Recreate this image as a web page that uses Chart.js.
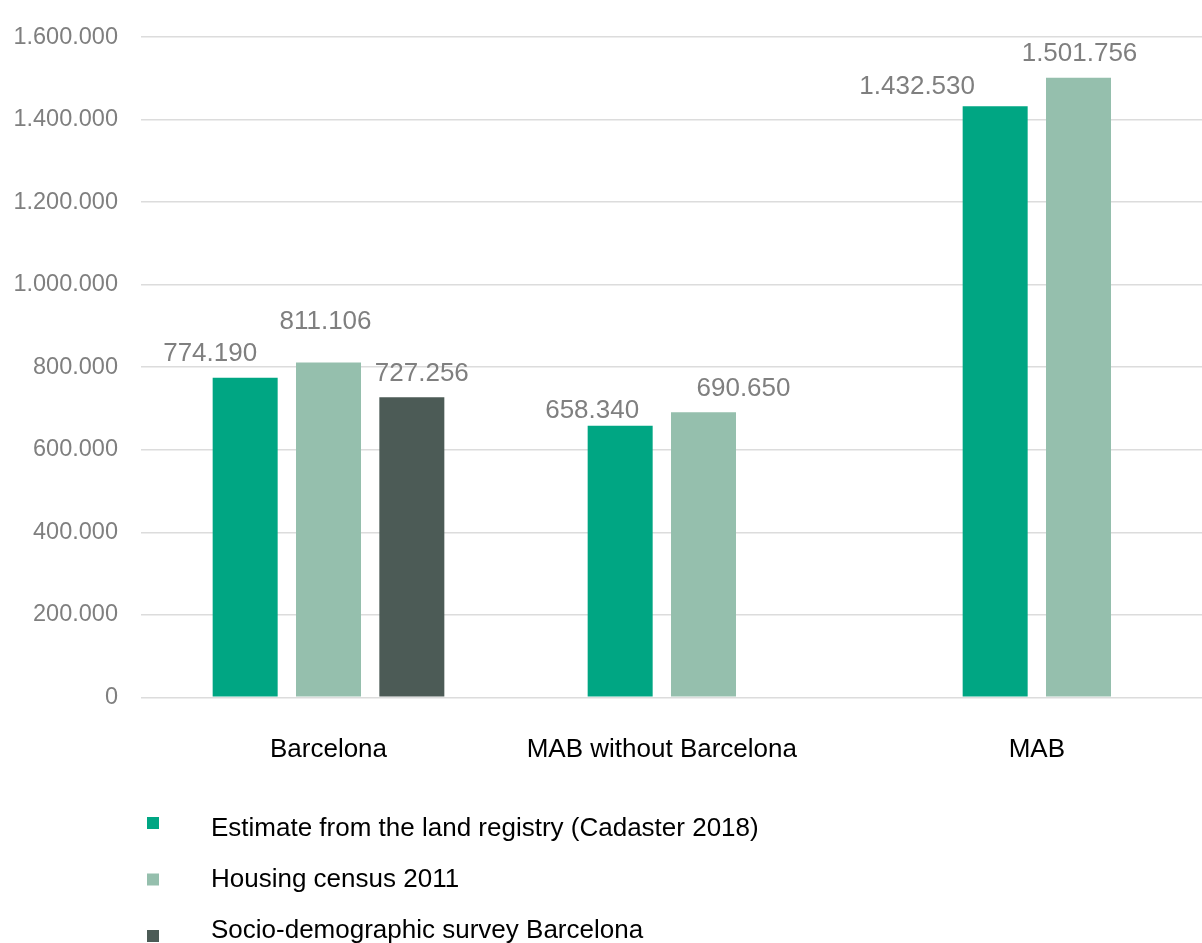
<!DOCTYPE html>
<html>
<head>
<meta charset="utf-8">
<title>Dwellings: Barcelona, MAB without Barcelona, MAB</title>
<script src="https://cdn.jsdelivr.net/npm/chart.js@4/dist/chart.umd.min.js"></script>
<style>
  html, body { margin: 0; padding: 0; background: #ffffff; overflow: hidden; }
  #wrap { position: relative; width: 1266px; height: 943px; }
</style>
</head>
<body>
<div id="wrap"><canvas id="chart"></canvas></div>
<script>
// Categories and series
const categories = ['Barcelona', 'MAB without Barcelona', 'MAB'];
const seriesNames = [
  'Estimate from the land registry (Cadaster 2018)',
  'Housing census 2011',
  'Socio-demographic survey Barcelona'
];
const cadaster2018 = [774190, 658340, 1432530];
const census2011 = [811106, 690650, 1501756];
const surveyBarcelona = [727256, null, null];

// Value axis ticks
const yMin = 0;
const yMax = 1600000;
const yStep = 200000;

// Styling
const seriesColors = ['#00a683', '#95bfad', '#4c5b56'];
const FONT = "'Liberation Sans', Arial, Helvetica, sans-serif";
const GREY_TEXT = '#7f7f7f';

// Where each value label sits relative to the top centre of its bar (px)
const labelNudges = [
  [{dx: -35, dy: -17}, {dx: -28, dy: -8}, {dx: -78, dy: -12}],
  [{dx: -3, dy: -34}, {dx: 40, dy: -16}, {dx: 1, dy: -17}],
  [{dx: 10, dy: -16}, null, null]
];

const fmtThousands = v => String(Math.round(v)).replace(/\B(?=(\d{3})+(?!\d))/g, '.');

// Draws the value above every bar
const valueLabels = {
  id: 'valueLabels',
  afterDatasetsDraw(chart) {
    const ctx = chart.ctx;
    ctx.save();
    ctx.font = '26px ' + FONT;
    ctx.fillStyle = GREY_TEXT;
    ctx.textAlign = 'center';
    ctx.textBaseline = 'alphabetic';
    chart.data.datasets.forEach((ds, di) => {
      const meta = chart.getDatasetMeta(di);
      meta.data.forEach((bar, i) => {
        const v = ds.data[i];
        if (v === null || v === undefined) return;
        const n = (labelNudges[di] && labelNudges[di][i]) || {dx: 0, dy: -10};
        ctx.fillText(fmtThousands(v), bar.x + n.dx, bar.y + n.dy);
      });
    });
    ctx.restore();
  }
};

// Category names, centred under the bars that each category actually has
const categoryLabels = {
  id: 'categoryLabels',
  afterDraw(chart) {
    const ctx = chart.ctx;
    ctx.save();
    ctx.font = '26px ' + FONT;
    ctx.fillStyle = '#000000';
    ctx.textAlign = 'center';
    ctx.textBaseline = 'alphabetic';
    chart.data.labels.forEach((name, i) => {
      const xs = [];
      chart.data.datasets.forEach((ds, di) => {
        const v = ds.data[i];
        if (v !== null && v !== undefined) xs.push(chart.getDatasetMeta(di).data[i].x);
      });
      const cx = xs.length ? xs.reduce((a, b) => a + b, 0) / xs.length : chart.scales.x.getPixelForValue(i);
      ctx.fillText(name, cx, chart.chartArea.bottom + 60);
    });
    ctx.restore();
  }
};

// Vertical legend under the plot
const stackedLegend = {
  id: 'stackedLegend',
  afterDraw(chart) {
    const ctx = chart.ctx;
    ctx.save();
    ctx.font = '26px ' + FONT;
    ctx.textAlign = 'left';
    ctx.textBaseline = 'alphabetic';
    chart.data.datasets.forEach((ds, i) => {
      const boxTop = 817 + i * 56.5;
      ctx.fillStyle = ds.backgroundColor;
      ctx.fillRect(147, boxTop, 12, 12);
      ctx.fillStyle = '#000000';
      ctx.fillText(ds.label, 211, 836 + i * 51);
    });
    ctx.restore();
  }
};

const barStyle = {
  categoryPercentage: 2 / 3,
  barPercentage: 0.78,
  borderWidth: 0
};

new Chart(document.getElementById('chart'), {
  type: 'bar',
  data: {
    labels: categories,
    datasets: [
      Object.assign({label: seriesNames[0], data: cadaster2018, backgroundColor: seriesColors[0]}, barStyle),
      Object.assign({label: seriesNames[1], data: census2011, backgroundColor: seriesColors[1]}, barStyle),
      Object.assign({label: seriesNames[2], data: surveyBarcelona, backgroundColor: seriesColors[2]}, barStyle)
    ]
  },
  options: {
    responsive: true,
    maintainAspectRatio: false,
    devicePixelRatio: 1,
    animation: false,
    layout: {
      padding: {top: 34.3, right: 0, bottom: 165.7, left: 0}
    },
    plugins: {
      legend: {display: false},
      tooltip: {enabled: false}
    },
    scales: {
      x: {
        type: 'category',
        offset: true,
        grid: {display: false, drawTicks: false},
        border: {display: false},
        ticks: {display: false},
        afterFit(scale) { scale.height = 80; }
      },
      y: {
        min: yMin,
        max: yMax,
        grid: {color: '#dcdcdc', lineWidth: 1.5, drawTicks: false},
        border: {display: false},
        ticks: {
          stepSize: yStep,
          color: GREY_TEXT,
          font: {family: FONT, size: 23.5},
          padding: 23,
          callback: v => fmtThousands(v)
        },
        afterFit(scale) { scale.width = 141; }
      }
    }
  },
  plugins: [valueLabels, categoryLabels, stackedLegend]
});
</script>
</body>
</html>
